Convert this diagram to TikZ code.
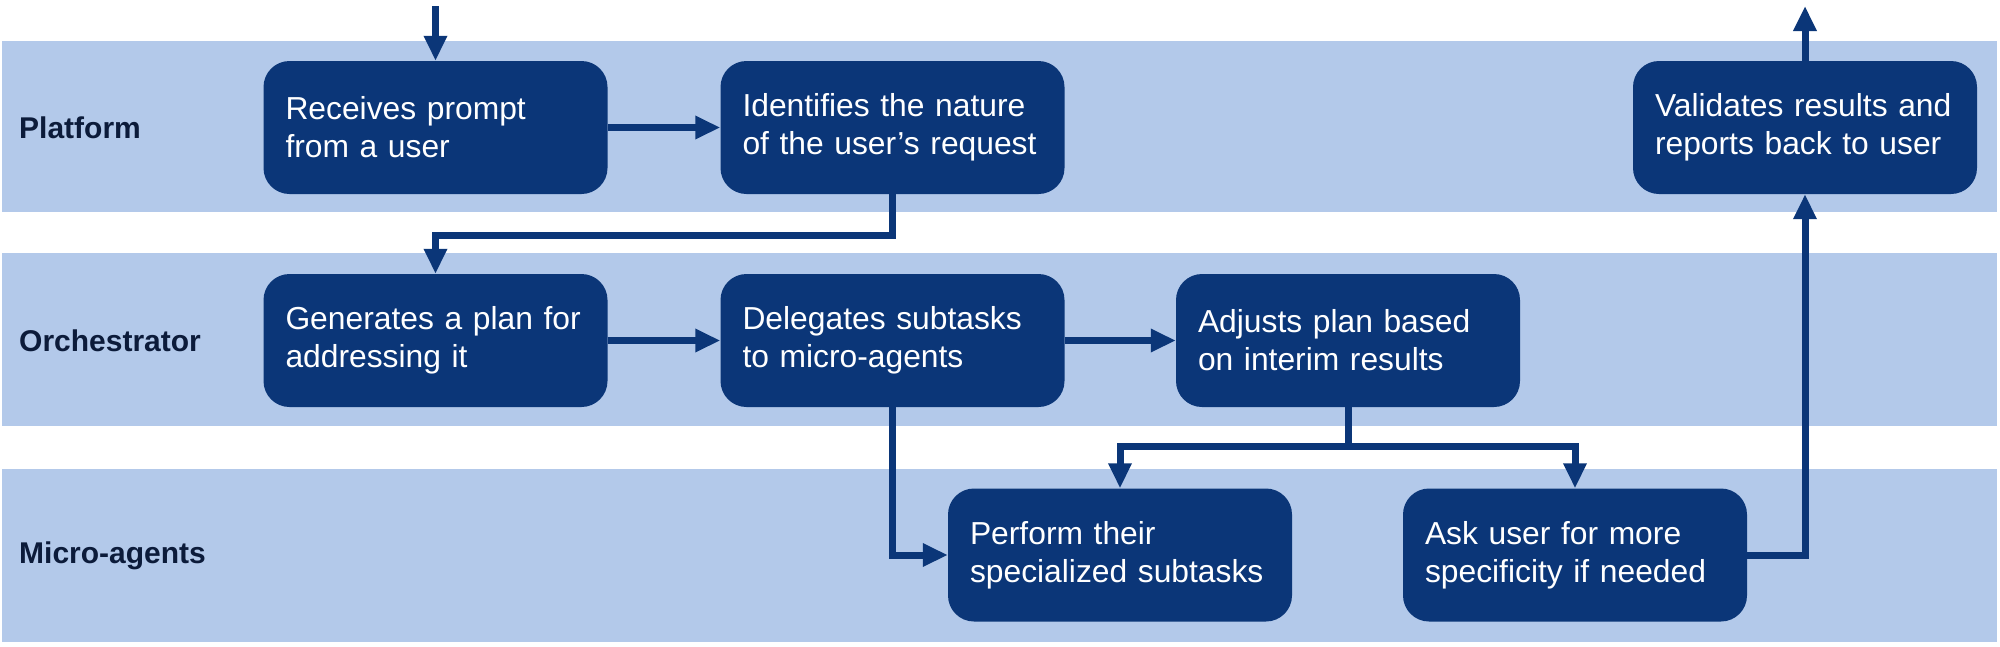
\documentclass[tikz,border=0pt]{standalone}
\usepackage{fontspec}
\setmainfont{Liberation Sans}
\usetikzlibrary{arrows.meta}
\definecolor{navy}{RGB}{11,54,120}
\definecolor{band}{RGB}{179,201,234}
\definecolor{lbl}{RGB}{12,27,58}
\begin{document}
\begin{tikzpicture}[x=1pt,y=-1pt,
  bandbox/.style={fill=band,draw=none},
  lanelabel/.style={anchor=west,text=lbl,font=\fontsize{30}{34}\selectfont\bfseries,inner sep=0pt},
  stepbox/.style={fill=navy,draw=none,rounded corners=26pt,minimum width=344pt,minimum height=133pt,
    text width=300pt,inner xsep=22pt,align=left,text=white,font=\fontsize{31.8}{38}\selectfont},
  flow/.style={draw=navy,line width=7pt,-{Triangle[length=25pt,width=22pt]}}
]
\useasboundingbox (0,0) rectangle (2000,646);
% lanes
\fill[bandbox] (2,41) rectangle (1997,212);
\fill[bandbox] (2,253) rectangle (1997,426);
\fill[bandbox] (2,469) rectangle (1997,642);
\node[lanelabel] (lp) at (19,128) {Platform};
\node[lanelabel] (lo) at (19,341) {Orchestrator};
\node[lanelabel] (lm) at (19,556) {Micro-agents};
% steps
\node[stepbox] (rec) at (435.5,127.5) {Receives prompt\\from a user};
\node[stepbox] (ide) at (892.5,127.5) {Identifies the nature\\of the user’s request};
\node[stepbox] (val) at (1805,127.5) {Validates results and\\reports back to user};
\node[stepbox] (gen) at (435.5,340.5) {Generates a plan for\\addressing it};
\node[stepbox] (del) at (892.5,340.5) {Delegates subtasks\\to micro-agents};
\node[stepbox] (adj) at (1348,340.5) {Adjusts plan based\\on interim results};
\node[stepbox] (per) at (1120,555) {Perform their\\specialized subtasks};
\node[stepbox] (ask) at (1575,555) {Ask user for more\\specificity if needed};
% free ends
\coordinate (in) at (435.5,6);
\coordinate (out) at (1805,6);
% connectors
\draw[flow] (in) -- (rec.north);
\draw[flow] (rec.east) -- (ide.west);
\draw[flow] (ide.south) -- (ide.south |- 0,235) -| (gen.north);
\draw[flow] (gen.east) -- (del.west);
\draw[flow] (del.east) -- (adj.west);
\draw[flow] (del.south) |- (per.west);
\draw[flow] (adj.south) -- (adj.south |- 0,446) -| (per.north);
\draw[flow] (adj.south) -- (adj.south |- 0,446) -| (ask.north);
\draw[flow] (ask.east) -| (val.south);
\draw[flow] (val.north) -- (out);
\end{tikzpicture}
\end{document}
